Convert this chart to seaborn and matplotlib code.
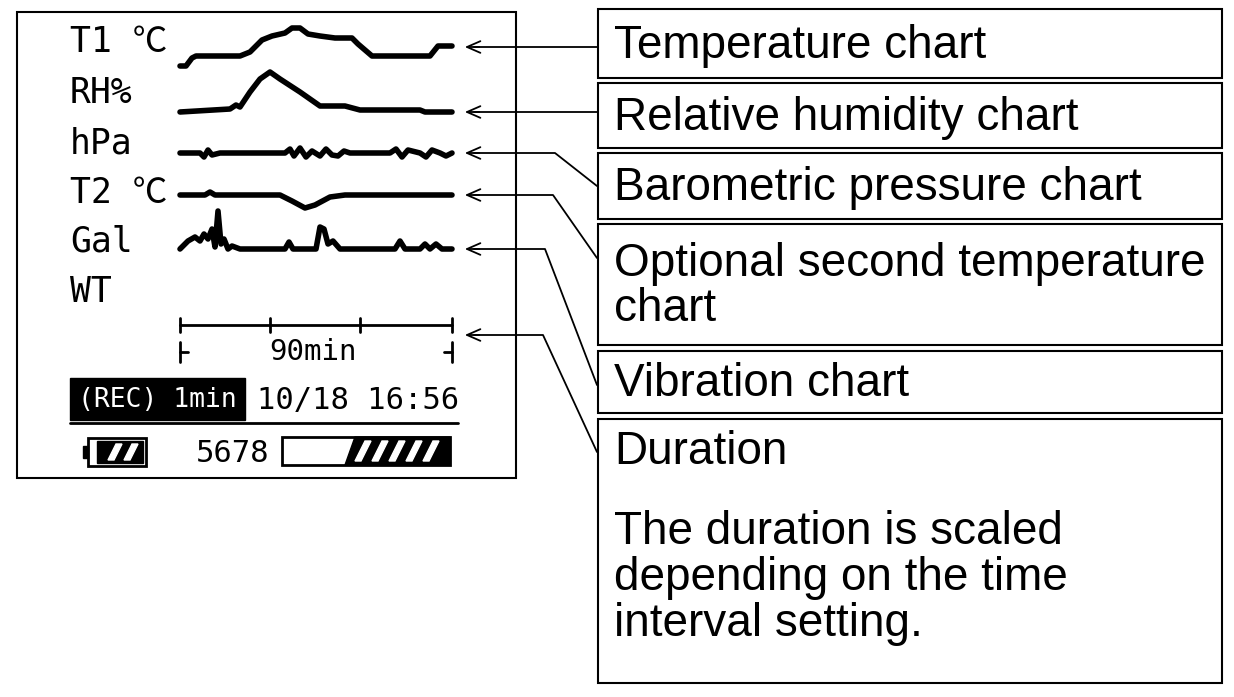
import matplotlib
matplotlib.use("Agg")
import matplotlib.pyplot as plt
import seaborn as sns
import pandas as pd
from matplotlib.patches import Rectangle, Polygon

# ---- data (pixel-space levels, relative to each track baseline) ----
t1_x = [180, 186, 192, 196, 240, 250, 262, 272, 285, 292, 300, 308, 320, 335, 352, 358, 372, 430, 438, 452]
t1_y = [-2, -2, -10, -12, -12, -16, -28, -32, -35, -40, -40, -34, -32, -30, -30, -24, -12, -12, -22, -22]
rh_x = [180, 230, 236, 240, 250, 260, 270, 280, 300, 320, 345, 360, 370, 420, 425, 452]
rh_y = [0, -3, -7, -5, -20, -33, -40, -33, -20, -6, -6, -2, -2, -2, 0, 0]
hp_x = [180, 200, 204, 208, 212, 220, 285, 290, 294, 300, 306, 312, 320, 326, 332, 338, 344, 350, 390, 396, 402, 408, 420, 426, 432, 440, 446, 452]
hp_y = [0, 0, 4, -3, 2, 0, 0, -4, 3, -5, 4, -2, 3, -4, 2, 3, -2, 0, 0, -4, 4, -3, 0, 4, -3, 0, 3, 0]
t2_x = [180, 205, 210, 215, 280, 292, 305, 315, 330, 345, 452]
t2_y = [0, 0, -3, 0, 0, 6, 13, 10, 2, 0, 0]
gal_x = [180, 188, 195, 200, 204, 208, 212, 215, 218, 221, 224, 228, 232, 240, 285, 289, 293, 316, 320, 324, 328, 333, 340, 395, 400, 405, 420, 425, 430, 436, 442, 452]
gal_y = [0, -8, -12, -8, -15, -10, -20, -2, -38, -5, -10, 0, -3, 0, 0, -7, 0, 0, -22, -20, -5, -8, 0, 0, -8, 0, 0, -5, 0, -5, 0, 0]
baselines = {"T1": 68, "RH": 112, "hPa": 153, "T2": 195, "Gal": 249}
channel_labels = ["T1 ℃", "RH%", "hPa", "T2 ℃", "Gal", "WT"]
label_y = [42, 93, 143, 193, 242, 292]
box_texts = ["Temperature chart", "Relative humidity chart", "Barometric pressure chart",
             "Optional second temperature\nchart", "Vibration chart", "Duration"]
duration_note = "The duration is scaled\ndepending on the time\ninterval setting."

sns.set_theme(style="white")
plt.rcParams['font.family'] = ['Liberation Sans', 'DejaVu Sans']
plt.rcParams['text.color'] = 'black'
fig = plt.figure(figsize=(12.34, 6.97), dpi=100)
ax = fig.add_axes([0, 0, 1, 1])
ax.set_xlim(0, 1234); ax.set_ylim(697, 0); ax.axis("off")

ax.add_patch(Rectangle((17, 12), 499, 466, fill=False, lw=1.5, ec="black"))
series = [("T1", t1_x, t1_y), ("RH", rh_x, rh_y), ("hPa", hp_x, hp_y), ("T2", t2_x, t2_y), ("Gal", gal_x, gal_y)]
for name, xs, ys in series:
    df = pd.DataFrame({"x": xs, "y": [baselines[name] + v for v in ys]})
    sns.lineplot(data=df, x="x", y="y", ax=ax, color="black", lw=4, sort=False, estimator=None)
ax.set_xlabel(""); ax.set_ylabel("")
ax.set_xlim(0, 1234); ax.set_ylim(697, 0)

mono = dict(family=['DejaVu Sans Mono', 'Noto Sans CJK JP'], color="black", va="center")
for lab, y in zip(channel_labels, label_y):
    ax.text(70, y, lab, fontsize=25, **mono)

# time axis
ax.plot([180, 452], [325, 325], color="black", lw=2)
for tx in [180, 270, 360, 452]:
    ax.plot([tx, tx], [318, 332], color="black", lw=2)
ax.plot([180, 180], [342, 362], color="black", lw=2); ax.plot([180, 188], [352, 352], color="black", lw=2)
ax.plot([452, 452], [342, 362], color="black", lw=2); ax.plot([444, 452], [352, 352], color="black", lw=2)
ax.text(313, 352, "90min", fontsize=21, ha="center", **mono)

# status bar
ax.add_patch(Rectangle((70, 378), 175, 42, color="black"))
ax.text(157, 400, "(REC) 1min", fontsize=19, ha="center", family=['DejaVu Sans Mono'], color="white", va="center")
ax.text(358, 400, "10/18 16:56", fontsize=22, ha="center", **mono)
ax.plot([70, 458], [423, 423], color="black", lw=2)
ax.add_patch(Rectangle((88, 438), 58, 28, fill=False, ec="black", lw=2))
ax.add_patch(Rectangle((83, 446), 5, 12, color="black"))
ax.add_patch(Rectangle((97, 441), 46, 22, color="black"))
for sx in [108, 124]:
    ax.add_patch(Polygon([[sx, 460], [sx + 6, 460], [sx + 14, 444], [sx + 8, 444]], color="white"))
ax.text(233, 453, "5678", fontsize=22, ha="center", **mono)
ax.add_patch(Rectangle((282, 437), 168, 28, fill=False, ec="black", lw=2))
ax.add_patch(Polygon([[345, 465], [355, 437], [450, 437], [450, 465]], color="black"))
for sx in [355, 372, 389, 406, 423]:
    ax.add_patch(Polygon([[sx, 461], [sx + 6, 461], [sx + 16, 441], [sx + 10, 441]], color="white"))

# right boxes
boxes = [(9, 78), (83, 148), (153, 219), (224, 345), (351, 413), (419, 683)]
for (y0, y1), t in zip(boxes, box_texts):
    ax.add_patch(Rectangle((598, y0), 624, y1 - y0, fill=False, ec="black", lw=1.5))
    if t == "Duration":
        ax.text(614, 452, t, fontsize=33, va="center", color="black")
    else:
        ax.text(614, (y0 + y1) / 2 + 2, t, fontsize=33, va="center", linespacing=1.05, color="black")
ax.text(614, 578, duration_note, fontsize=33, va="center", linespacing=1.05, color="black")

# arrows
paths = [[(598, 47), (462, 47)], [(598, 112), (462, 112)],
         [(597, 186), (555, 153), (462, 153)], [(597, 258), (553, 195), (462, 195)],
         [(597, 385), (545, 249), (462, 249)], [(597, 452), (543, 335), (462, 335)]]
for p in paths:
    xs, ys = zip(*p)
    ax.plot(xs[:-1] + (xs[-1] + 12,), ys, color="black", lw=1.3)
    ax.annotate("", xy=p[-1], xytext=(p[-1][0] + 20, p[-1][1]),
                arrowprops=dict(arrowstyle="->,head_length=0.8,head_width=0.35", color="black", lw=1.3))

fig.savefig("out.png", dpi=100)
